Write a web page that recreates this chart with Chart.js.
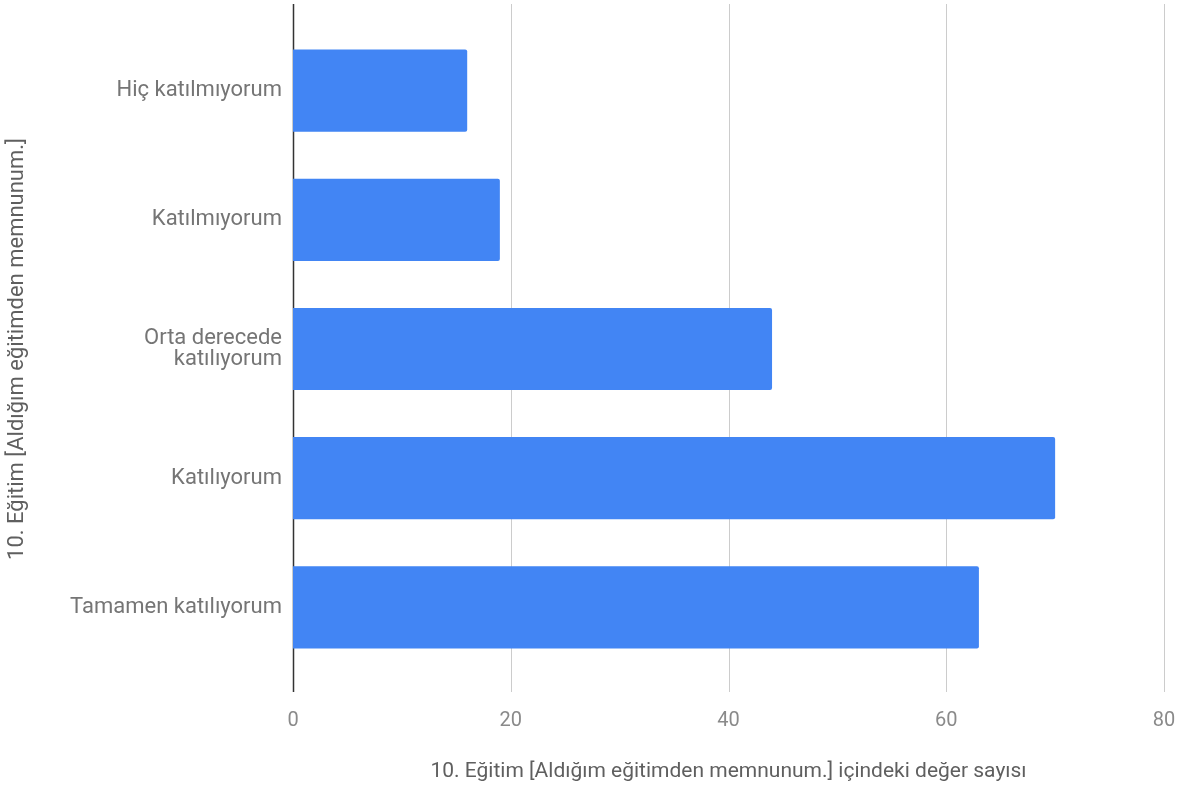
<!DOCTYPE html>
<html>
<head>
<meta charset="utf-8">
<script src="https://cdn.jsdelivr.net/npm/chart.js@4"></script>
<style>
  html, body { margin: 0; padding: 0; background: #fff; }
  #wrap { width: 1190px; height: 789px; }
</style>
</head>
<body>
<div id="wrap"><canvas id="chart" width="1190" height="789"></canvas></div>
<script>
const categories = [
  'Hiç katılmıyorum',
  'Katılmıyorum',
  ['Orta derecede', 'katılıyorum'],
  'Katılıyorum',
  'Tamamen katılıyorum'
];
const counts = [16, 19, 44, 70, 63];
const xTicks = [0, 20, 40, 60, 80];
const xTitle = '10. Eğitim [Aldığım eğitimden memnunum.] içindeki değer sayısı';
const yTitle = '10. Eğitim [Aldığım eğitimden memnunum.]';

// vertical grid lines and the zero axis run a bit past the bar area, like the original
const longGrid = {
  id: 'longGrid',
  beforeDatasetsDraw(chart) {
    const { ctx, chartArea, scales } = chart;
    const top = chartArea.top - 22;
    const bottom = chartArea.bottom + 20;
    ctx.save();
    scales.x.ticks.forEach(t => {
      const x = Math.round(scales.x.getPixelForValue(t.value)) + 0.5;
      ctx.strokeStyle = t.value === 0 ? '#333333' : '#cccccc';
      ctx.lineWidth = t.value === 0 ? 1.5 : 1;
      ctx.beginPath();
      ctx.moveTo(x, top);
      ctx.lineTo(x, bottom);
      ctx.stroke();
    });
    ctx.restore();
  }
};

new Chart(document.getElementById('chart'), {
  type: 'bar',
  data: {
    labels: categories,
    datasets: [{
      data: counts,
      backgroundColor: '#4285f4',
      borderRadius: 2,
      borderSkipped: 'start',
      categoryPercentage: 1,
      barPercentage: 0.636
    }]
  },
  plugins: [longGrid],
  options: {
    indexAxis: 'y',
    responsive: false,
    animation: false,
    layout: { padding: { top: 26, right: 26, left: 0, bottom: 0 } },
    plugins: { legend: { display: false }, tooltip: { enabled: false } },
    scales: {
      x: {
        min: 0,
        max: 80,
        afterBuildTicks: s => { s.ticks = xTicks.map(v => ({ value: v })); },
        afterFit: s => { s.height = 117; s.paddingLeft = 0; s.paddingRight = 0; },
        grid: { display: false },
        border: { display: false },
        ticks: {
          padding: 29,
          color: '#8a8a8a',
          font: { family: 'Roboto', size: 20 }
        },
        title: {
          display: true,
          text: xTitle,
          color: '#5f5f5f',
          font: { family: 'Roboto', size: 21 },
          padding: { top: 0, bottom: 5 }
        }
      },
      y: {
        afterFit: s => { s.width = 293; s.paddingTop = 0; s.paddingBottom = 0; },
        grid: { display: false, drawTicks: false },
        border: { display: false },
        ticks: {
          padding: 11,
          color: '#757575',
          font: { family: 'Roboto', size: 22, lineHeight: 0.97 }
        },
        title: {
          display: true,
          text: yTitle,
          color: '#5f5f5f',
          font: { family: 'Roboto', size: 22 },
          padding: { top: 4, bottom: 0 }
        }
      }
    }
  }
});
</script>
</body>
</html>
